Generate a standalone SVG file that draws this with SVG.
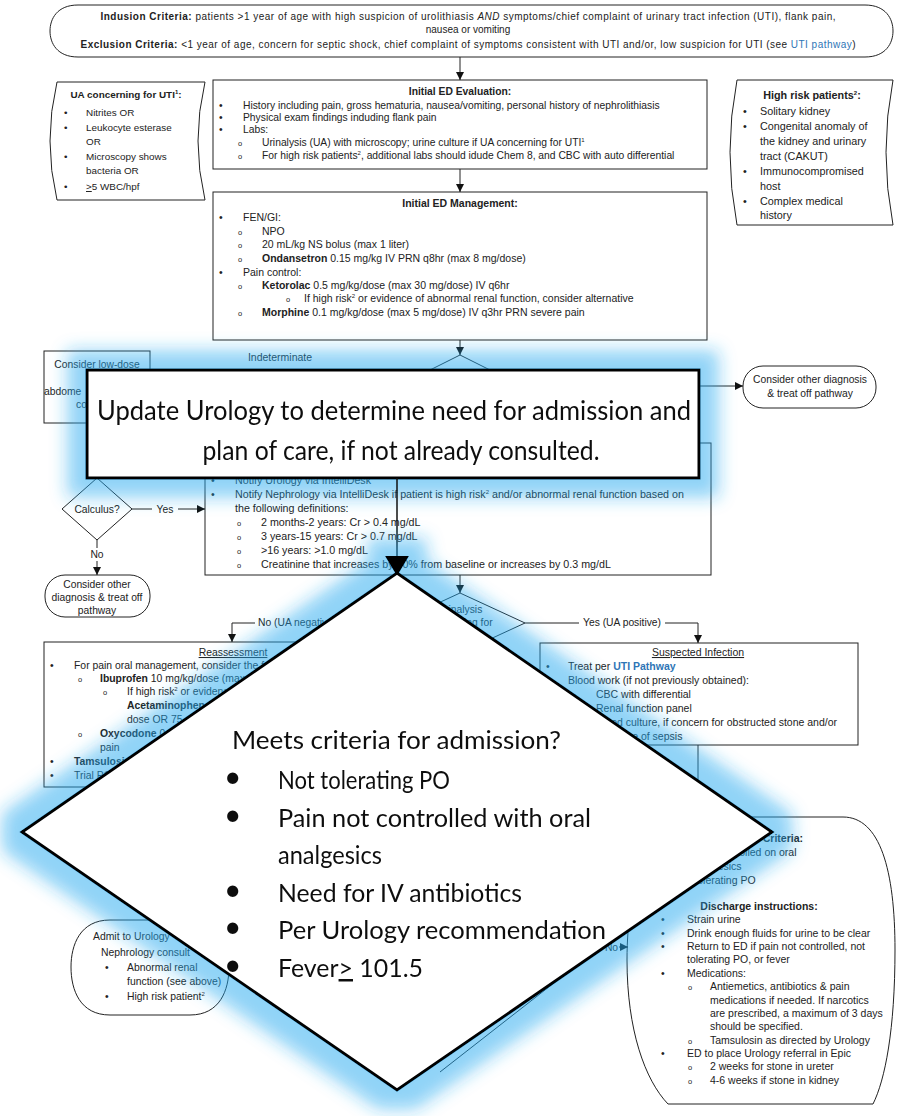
<svg xmlns="http://www.w3.org/2000/svg" width="898" height="1116" viewBox="0 0 898 1116">
<defs>
<style>
text{font-family:'Liberation Sans',Arial,sans-serif;font-size:10.3px;fill:#222}
.b{font-weight:bold}
.i{font-style:italic}
.m{text-anchor:middle}
.e{text-anchor:end}
.u{text-decoration:underline}
.lk{fill:#2e75b6}
.o{font-size:7.5px}
.sup{font-size:6px}
.box{fill:#fff;stroke:#222;stroke-width:1}
.ln{fill:none;stroke:#222;stroke-width:1}
.big{font-family:Lato,'Liberation Sans',sans-serif;fill:#111}
.ov{fill:#fff;stroke:#000;stroke-width:3;stroke-linejoin:miter}
.f99 text{font-size:9.9px}
.f105 text{font-size:10.5px}
.f107 text{font-size:10.7px}
.f108 text{font-size:10.8px}
.f104 text{font-size:10.4px}
.big25{font-size:25px}
.dot{font-size:30px}
</style>
<marker id="ah" viewBox="0 0 10 10" refX="10" refY="5" markerWidth="8" markerHeight="8" markerUnits="userSpaceOnUse" orient="auto">
<path d="M0,0 L10,5 L0,10 z" fill="#111"/>
</marker>
<!-- soft outer glow for the two callouts -->
<filter id="glow" filterUnits="userSpaceOnUse" x="0" y="300" width="898" height="816">
<feMorphology in="SourceAlpha" operator="dilate" radius="18" result="d"/>
<feGaussianBlur in="d" stdDeviation="8.5" result="bl"/>
<feFlood flood-color="#22a8ef" flood-opacity="0.5"/>
<feComposite in2="bl" operator="in" result="g"/>
<feMerge><feMergeNode in="g"/><feMergeNode in="SourceGraphic"/></feMerge>
</filter>
</defs>
<rect width="898" height="1116" fill="#fff"/>

<!-- inclusion / exclusion terminator -->
<g id="criteria" style="font-size:10px">
<path class="box" d="M78,5 H865 C886,5 893,19 893,31 C893,43 886,57 865,57 H78 C57,57 50,43 50,31 C50,19 57,5 78,5 Z"/>
<text class="m" x="468" y="20" textLength="735" style="font-size:10px"><tspan class="b">Indusion Criteria:</tspan> patients &gt;1 year of age with high suspicion of urolithiasis <tspan class="i">AND</tspan> symptoms/chief complaint of urinary tract infection (UTI), flank pain,</text>
<text class="m" x="468" y="33" style="font-size:10px">nausea or vomiting</text>
<text class="m" x="468" y="48" textLength="775" style="font-size:10px"><tspan class="b">Exclusion Criteria:</tspan> &lt;1 year of age, concern for septic shock, chief complaint of symptoms consistent with UTI and/or, low suspicion for UTI (see <tspan class="lk">UTI pathway</tspan>)</text>
</g>

<!-- UA criteria note -->
<g id="ua-note" class="f99">
<path class="box" d="M57,82 H205 Q191,141 205,200 H57 Q43,141 57,82 Z"/>
<text class="b m" x="126" y="98">UA concerning for UTI<tspan class="sup" dy="-4">1</tspan><tspan dy="4">:</tspan></text>
<text y="116"><tspan x="64">•</tspan><tspan x="86">Nitrites OR</tspan></text>
<text y="131"><tspan x="64">•</tspan><tspan x="86">Leukocyte esterase</tspan></text>
<text x="86" y="145">OR</text>
<text y="160"><tspan x="64">•</tspan><tspan x="86">Microscopy shows</tspan></text>
<text x="86" y="174">bacteria OR</text>
<text y="190"><tspan x="64">•</tspan><tspan x="86"><tspan class="u">&gt;</tspan>5 WBC/hpf</tspan></text>
</g>

<!-- initial evaluation -->
<g id="ed-evaluation">
<rect class="box" x="213" y="80" width="494" height="89"/>
<text class="b m" x="460" y="95">Initial ED Evaluation:</text>
<text y="109"><tspan x="219">•</tspan><tspan x="243">History including pain, gross hematuria, nausea/vomiting, personal history of nephrolithiasis</tspan></text>
<text y="121"><tspan x="219">•</tspan><tspan x="243">Physical exam findings induding flank pain</tspan></text>
<text y="133"><tspan x="219">•</tspan><tspan x="243">Labs:</tspan></text>
<text y="146"><tspan x="238" class="o">o</tspan><tspan x="262">Urinalysis (UA) with microscopy; urine culture if UA concerning for UTI</tspan><tspan class="sup" dy="-4">1</tspan></text>
<text y="159"><tspan x="238" class="o">o</tspan><tspan x="262">For high risk patients</tspan><tspan class="sup" dy="-4">2</tspan><tspan dy="4">, additional labs should idude Chem 8, and CBC with auto differential</tspan></text>
</g>

<!-- high risk note -->
<g id="high-risk" class="f108">
<path class="box" d="M737,80 H893 Q879,152 893,225 H737 Q723,152 737,80 Z"/>
<text class="b m" x="812" y="99">High risk patients<tspan class="sup" dy="-4">2</tspan><tspan dy="4">:</tspan></text>
<text y="115"><tspan x="743">•</tspan><tspan x="760">Solitary kidney</tspan></text>
<text y="130"><tspan x="743">•</tspan><tspan x="760">Congenital anomaly of</tspan></text>
<text x="760" y="145">the kidney and urinary</text>
<text x="760" y="160">tract (CAKUT)</text>
<text y="175"><tspan x="743">•</tspan><tspan x="760">Immunocompromised</tspan></text>
<text x="760" y="190">host</text>
<text y="205"><tspan x="743">•</tspan><tspan x="760">Complex medical</tspan></text>
<text x="760" y="219">history</text>
</g>

<!-- initial management -->
<g id="ed-management" class="f105">
<rect class="box" x="213" y="192" width="494" height="148"/>
<text class="b m" x="460" y="207">Initial ED Management:</text>
<text y="221"><tspan x="219">•</tspan><tspan x="243">FEN/GI:</tspan></text>
<text y="235"><tspan x="238" class="o">o</tspan><tspan x="262">NPO</tspan></text>
<text y="248"><tspan x="238" class="o">o</tspan><tspan x="262">20 mL/kg NS bolus (max 1 liter)</tspan></text>
<text y="262"><tspan x="238" class="o">o</tspan><tspan x="262" class="b">Ondansetron</tspan><tspan> 0.15 mg/kg IV PRN q8hr (max 8 mg/dose)</tspan></text>
<text y="276"><tspan x="219">•</tspan><tspan x="243">Pain control:</tspan></text>
<text y="289"><tspan x="238" class="o">o</tspan><tspan x="262" class="b">Ketorolac</tspan><tspan> 0.5 mg/kg/dose (max 30 mg/dose) IV q6hr</tspan></text>
<text y="302"><tspan x="286" class="o">o</tspan><tspan x="304">If high risk</tspan><tspan class="sup" dy="-4">2</tspan><tspan dy="4"> or evidence of abnormal renal function, consider alternative</tspan></text>
<text y="316"><tspan x="238" class="o">o</tspan><tspan x="262" class="b">Morphine</tspan><tspan> 0.1 mg/kg/dose (max 5 mg/dose) IV q3hr PRN severe pain</tspan></text>
</g>

<!-- imaging decision (mostly covered) -->
<g id="imaging-decision">
<polygon class="box" points="460,355 560,405 460,455 360,405"/>
</g>

<g id="ct-box">
<rect class="box" x="44" y="351" width="106" height="72"/>
<text class="m" x="97" y="368">Consider low-dose</text>
<text class="m" x="97" y="381">CT</text>
<text x="44" y="395">abdome</text>
<text x="76" y="408">co</text>
</g>

<g id="other-dx-right">
<rect class="box" x="743" y="366" width="133" height="42" rx="20" ry="20"/>
<text class="m" x="810" y="383">Consider other diagnosis</text>
<text class="m" x="810" y="397">&amp; treat off pathway</text>
</g>

<g id="calculus">
<polygon class="box" points="97,478 132,509 97,540 62,509"/>
<text class="m" x="97" y="512.5">Calculus?</text>
</g>

<g id="other-dx-left">
<rect class="box" x="45" y="575" width="105" height="42" rx="20" ry="20"/>
<text class="m" x="97" y="588">Consider other</text>
<text class="m" x="97" y="601">diagnosis &amp; treat off</text>
<text class="m" x="97" y="614">pathway</text>
</g>

<g id="notify" class="f107">
<rect class="box" x="205" y="443" width="506" height="132"/>
<text y="484"><tspan x="211">•</tspan><tspan x="235">Notify Urology via IntelliDesk</tspan></text>
<text y="498"><tspan x="211">•</tspan><tspan x="235">Notify Nephrology via IntelliDesk if patient is high risk</tspan><tspan class="sup" dy="-4">2</tspan><tspan dy="4"> and/or abnormal renal function based on</tspan></text>
<text x="235" y="512">the following definitions:</text>
<text y="526"><tspan x="237" class="o">o</tspan><tspan x="261">2 months-2 years: Cr &gt; 0.4 mg/dL</tspan></text>
<text y="540"><tspan x="237" class="o">o</tspan><tspan x="261">3 years-15 years: Cr &gt; 0.7 mg/dL</tspan></text>
<text y="554"><tspan x="237" class="o">o</tspan><tspan x="261">&gt;16 years: &gt;1.0 mg/dL</tspan></text>
<text y="568"><tspan x="237" class="o">o</tspan><tspan x="261">Creatinine that increases by 50% from baseline or increases by 0.3 mg/dL</tspan></text>
</g>

<g id="ua-decision">
<polygon class="box" points="460,593 525,623 460,653 395,623"/>
<text class="m" x="460" y="613">Urinalysis</text>
<text class="m" x="460" y="626">concerning for</text>
<text class="m" x="460" y="639">UTI?</text>
</g>

<g id="reassessment" class="f104">
<rect class="box" x="44" y="642" width="356" height="145"/>
<text class="m u" x="233" y="656">Reassessment</text>
<text y="669"><tspan x="50">•</tspan><tspan x="74">For pain oral management, consider the following:</tspan></text>
<text y="682"><tspan x="78" class="o">o</tspan><tspan x="100" class="b">Ibuprofen</tspan><tspan> 10 mg/kg/dose (max</tspan></text>
<text y="695"><tspan x="103" class="o">o</tspan><tspan x="127">If high risk</tspan><tspan class="sup" dy="-4">2</tspan><tspan dy="4"> or evidence</tspan></text>
<text x="127" y="709" class="b">Acetaminophen</text>
<text x="127" y="723">dose OR 75</text>
<text y="737"><tspan x="78" class="o">o</tspan><tspan x="100" class="b">Oxycodone</tspan><tspan> 0.</tspan></text>
<text x="100" y="751">pain</text>
<text y="765"><tspan x="50">•</tspan><tspan x="74" class="b">Tamsulosin</tspan></text>
<text y="779"><tspan x="50">•</tspan><tspan x="74">Trial PO</tspan></text>
</g>

<g id="suspected-infection" class="f105">
<rect class="box" x="540" y="643" width="318" height="102"/>
<text class="m u" x="698" y="656">Suspected Infection</text>
<text y="670"><tspan x="546">•</tspan><tspan x="568">Treat per </tspan><tspan class="b lk">UTI Pathway</tspan></text>
<text y="684"><tspan x="546">•</tspan><tspan x="568">Blood work (if not previously obtained):</tspan></text>
<text y="698"><tspan x="572" class="o">o</tspan><tspan x="596">CBC with differential</tspan></text>
<text y="712"><tspan x="572" class="o">o</tspan><tspan x="596">Renal function panel</tspan></text>
<text y="726"><tspan x="572" class="o">o</tspan><tspan x="596">Blood culture, if concern for obstructed stone and/or</tspan></text>
<text x="596" y="740">evidence of sepsis</text>
</g>

<g id="admit" class="f104">
<path class="box" d="M110,920 H190 C220,920 229,945 229,967 C229,990 220,1015 190,1015 H110 C80,1015 71,990 71,967 C71,945 80,920 110,920 Z"/>
<text x="93" y="940">Admit to Urology</text>
<text x="101" y="956">Nephrology consult</text>
<text y="971"><tspan x="105">•</tspan><tspan x="127">Abnormal renal</tspan></text>
<text x="127" y="985">function (see above)</text>
<text y="1000"><tspan x="105">•</tspan><tspan x="127">High risk patient</tspan><tspan class="sup" dy="-4">2</tspan></text>
</g>

<g id="admission-decision">
<path class="ln" d="M440,1072 L600,947"/>
</g>

<g id="discharge" class="f105">
<path class="box" d="M700,817 H843 C880,817 895,870 895,950 C895,1030 885,1080 873,1104 H668 C645,1080 627,1030 627,960 C627,880 650,817 700,817 Z"/>
<text class="b e" x="803" y="842">Discharge Criteria:</text>
<text y="856"><tspan x="668">•</tspan><tspan x="692">Pain controlled on oral</tspan></text>
<text x="692" y="870">analgesics</text>
<text y="884"><tspan x="668">•</tspan><tspan x="692">Tolerating PO</tspan></text>
<text class="b m" x="759" y="909.5">Discharge instructions:</text>
<text y="923"><tspan x="661">•</tspan><tspan x="687">Strain urine</tspan></text>
<text y="936.5"><tspan x="661">•</tspan><tspan x="687">Drink enough fluids for urine to be clear</tspan></text>
<text y="950"><tspan x="661">•</tspan><tspan x="687">Return to ED if pain not controlled, not</tspan></text>
<text x="687" y="963">tolerating PO, or fever</text>
<text y="976.5"><tspan x="661">•</tspan><tspan x="687">Medications:</tspan></text>
<text y="990"><tspan x="688" class="o">o</tspan><tspan x="710">Antiemetics, antibiotics &amp; pain</tspan></text>
<text x="710" y="1003.5">medications if needed. If narcotics</text>
<text x="710" y="1017">are prescribed, a maximum of 3 days</text>
<text x="710" y="1030">should be specified.</text>
<text y="1043.5"><tspan x="688" class="o">o</tspan><tspan x="710">Tamsulosin as directed by Urology</tspan></text>
<text y="1057"><tspan x="661">•</tspan><tspan x="687">ED to place Urology referral in Epic</tspan></text>
<text y="1070"><tspan x="688" class="o">o</tspan><tspan x="710">2 weeks for stone in ureter</tspan></text>
<text y="1083.5"><tspan x="688" class="o">o</tspan><tspan x="710">4-6 weeks if stone in kidney</tspan></text>
</g>

<!-- connectors -->
<g id="connectors">
<path class="ln" d="M460,57 V80" marker-end="url(#ah)"/>
<path class="ln" d="M460,169 V192" marker-end="url(#ah)"/>
<path class="ln" d="M460,340 V355" marker-end="url(#ah)"/>
<path class="ln" d="M699,386 H743" marker-end="url(#ah)"/>
<path class="ln" d="M97,423 V478" marker-end="url(#ah)"/>
<path class="ln" d="M132,509 H152 M178,509 H205" marker-end="url(#ah)"/>
<path class="ln" d="M97,540 V548 M97,561 V575" marker-end="url(#ah)"/>
<path class="ln" d="M460,575 V593" marker-end="url(#ah)"/>
<path class="ln" d="M395,623 H342 M255,623 H232 V642" marker-end="url(#ah)"/>
<path class="ln" d="M525,623 H579 M665,623 H698 V643" marker-end="url(#ah)"/>
<path class="ln" d="M698,745 V792"/>
<path class="ln" d="M600,947 H604 M619,947 H628" marker-end="url(#ah)"/>
<text class="m" x="280" y="361" style="font-size:10.5px">Indeterminate</text>
<text class="m" x="165" y="512.5">Yes</text>
<text class="m" x="97" y="558">No</text>
<text x="258" y="626">No (UA negative)</text>
<text class="m" x="622" y="626">Yes (UA positive)</text>
<text class="m" x="611.5" y="950.5">No</text>
</g>

<!-- consult callout -->
<g id="consult-callout" filter="url(#glow)">
<rect class="ov" x="87" y="370" width="612" height="108"/>
<text class="big m" x="394" y="420" style="font-size:27px" textLength="594" lengthAdjust="spacingAndGlyphs">Update Urology to determine need for admission and</text>
<text class="big m" x="401" y="460" style="font-size:27px" textLength="397" lengthAdjust="spacingAndGlyphs">plan of care, if not already consulted.</text>
</g>

<g id="callout-link">
<path d="M397,478 V558" fill="none" stroke="#111" stroke-width="1.5"/>
</g>

<!-- admission criteria callout -->
<g id="admission-callout" filter="url(#glow)">
<polygon points="385,556 409,556 397,576" fill="#000"/>
<polygon class="ov" points="397,573 772,832 397,1090 22,832"/>
<text class="big big25" x="232" y="749" textLength="329" lengthAdjust="spacingAndGlyphs">Meets criteria for admission?</text>
<text class="big dot" x="224" y="787">•</text>
<text class="big big25" x="278" y="789" textLength="172" lengthAdjust="spacingAndGlyphs">Not tolerating PO</text>
<text class="big dot" x="224" y="825">•</text>
<text class="big big25" x="278" y="827" textLength="313" lengthAdjust="spacingAndGlyphs">Pain not controlled with oral</text>
<text class="big big25" x="278" y="864" textLength="104" lengthAdjust="spacingAndGlyphs">analgesics</text>
<text class="big dot" x="224" y="900">•</text>
<text class="big big25" x="278" y="902" textLength="244" lengthAdjust="spacingAndGlyphs">Need for IV antibiotics</text>
<text class="big dot" x="224" y="937">•</text>
<text class="big big25" x="278" y="939" textLength="328" lengthAdjust="spacingAndGlyphs">Per Urology recommendation</text>
<text class="big dot" x="224" y="975">•</text>
<text class="big big25" x="278" y="977" textLength="145" lengthAdjust="spacingAndGlyphs">Fever<tspan class="u">&gt;</tspan> 101.5</text>
</g>
</svg>
